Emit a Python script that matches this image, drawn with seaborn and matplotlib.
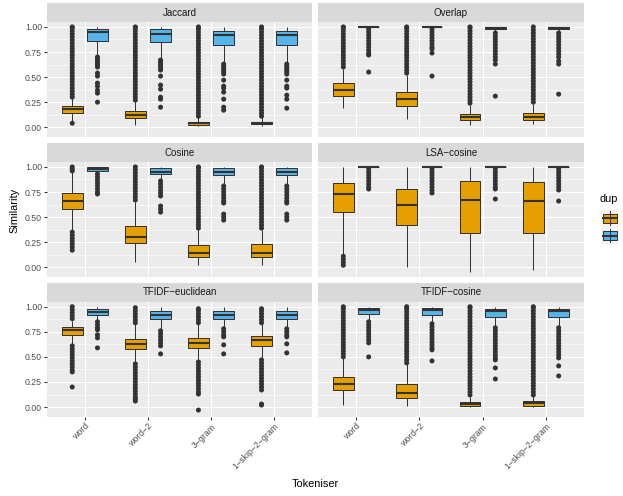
import matplotlib
matplotlib.use("Agg")
import matplotlib.pyplot as plt
from matplotlib.patches import Rectangle
from matplotlib.lines import Line2D
from matplotlib.ticker import FixedLocator
import pandas as pd
import seaborn as sns

plt.rcParams["font.family"] = ["Liberation Sans", "DejaVu Sans"]

# ---------------------------------------------------------------- data
tokenisers = ["word", "word\u22122", "3\u2212gram", "1\u2212skip\u22122\u2212gram"]
metrics = ["Jaccard", "Overlap", "Cosine", "LSA\u2212cosine",
           "TFIDF\u2212euclidean", "TFIDF\u2212cosine"]
dup_levels = ["0", "1"]
dup_colours = ["#E69F00", "#56B4E9"]

# box summaries per tokeniser: [lower whisker, q1, median, q3, upper whisker]
jaccard_nondup = [[0.06, 0.143, 0.183, 0.21, 0.29], [0.02, 0.09, 0.127, 0.16, 0.26],
                  [0.01, 0.027, 0.04, 0.057, 0.10], [0.01, 0.03, 0.043, 0.057, 0.10]]
jaccard_dup = [[0.72, 0.863, 0.947, 0.98, 1.0], [0.69, 0.847, 0.933, 0.977, 1.0],
               [0.64, 0.823, 0.92, 0.963, 1.0], [0.64, 0.823, 0.917, 0.963, 1.0]]
overlap_nondup = [[0.19, 0.31, 0.37, 0.437, 0.58], [0.087, 0.213, 0.277, 0.347, 0.52],
                  [0.027, 0.07, 0.103, 0.137, 0.22], [0.03, 0.07, 0.103, 0.143, 0.23]]
overlap_dup = [[0.995, 0.995, 1.0, 1.0, 1.0], [0.995, 0.995, 1.0, 1.0, 1.0],
               [0.95, 0.977, 0.993, 1.0, 1.0], [0.95, 0.977, 0.993, 1.0, 1.0]]
cosine_nondup = [[0.36, 0.577, 0.66, 0.737, 0.95], [0.053, 0.237, 0.303, 0.41, 0.65],
                 [0.02, 0.103, 0.147, 0.22, 0.37], [0.02, 0.103, 0.147, 0.227, 0.37]]
cosine_dup = [[0.94, 0.96, 0.98, 0.997, 1.0], [0.87, 0.933, 0.953, 0.987, 1.0],
              [0.83, 0.92, 0.953, 0.987, 1.0], [0.83, 0.92, 0.953, 0.987, 1.0]]
lsa_nondup = [[0.137, 0.55, 0.727, 0.837, 1.0], [0.0, 0.417, 0.62, 0.777, 1.0],
              [-0.047, 0.337, 0.667, 0.857, 1.0], [-0.023, 0.337, 0.66, 0.847, 1.0]]
lsa_dup = [[0.995, 0.995, 1.0, 1.0, 1.0], [0.995, 0.995, 1.0, 1.0, 1.0],
           [0.995, 0.995, 1.0, 1.0, 1.0], [0.995, 0.995, 1.0, 1.0, 1.0]]
tfidf_euc_nondup = [[0.627, 0.717, 0.77, 0.80, 0.86], [0.443, 0.577, 0.633, 0.677, 0.827],
                    [0.477, 0.593, 0.64, 0.693, 0.83], [0.493, 0.607, 0.665, 0.707, 0.83]]
tfidf_euc_dup = [[0.867, 0.92, 0.947, 0.973, 1.0], [0.777, 0.88, 0.917, 0.957, 1.0],
                 [0.79, 0.877, 0.92, 0.957, 1.0], [0.80, 0.88, 0.917, 0.957, 1.0]]
tfidf_cos_nondup = [[0.02, 0.17, 0.233, 0.303, 0.49], [0.01, 0.093, 0.143, 0.233, 0.43],
                    [0.0, 0.01, 0.033, 0.053, 0.10], [0.0, 0.01, 0.04, 0.06, 0.11]]
tfidf_cos_dup = [[0.86, 0.927, 0.967, 0.99, 1.0], [0.84, 0.92, 0.967, 0.99, 1.0],
                 [0.80, 0.90, 0.953, 0.977, 1.0], [0.80, 0.90, 0.953, 0.977, 1.0]]

# outlying observations per tokeniser
jaccard_nondup_out = [
    [0.04, 0.30, 0.33, 0.36, 0.39, 0.42, 0.45, 0.48, 0.51, 0.54, 0.57, 0.60, 0.63, 0.66,
     0.69, 0.72, 0.75, 0.78, 0.81, 0.84, 0.87, 0.90, 0.93, 0.96, 0.99, 1.00],
    [0.27, 0.30, 0.33, 0.36, 0.39, 0.42, 0.45, 0.48, 0.51, 0.54, 0.57, 0.60, 0.63, 0.66,
     0.69, 0.72, 0.75, 0.78, 0.81, 0.84, 0.87, 0.90, 0.93, 0.96, 0.99, 1.00],
    [0.11, 0.14, 0.17, 0.20, 0.23, 0.26, 0.29, 0.32, 0.35, 0.38, 0.41, 0.44, 0.47, 0.50,
     0.53, 0.56, 0.59, 0.62, 0.65, 0.68, 0.71, 0.74, 0.77, 0.80, 0.83, 0.86, 0.89, 0.92,
     0.95, 0.98, 1.00],
    [0.11, 0.14, 0.17, 0.20, 0.23, 0.26, 0.29, 0.32, 0.35, 0.38, 0.41, 0.44, 0.47, 0.50,
     0.53, 0.56, 0.59, 0.62, 0.65, 0.68, 0.71, 0.74, 0.77, 0.80, 0.83, 0.86, 0.89, 0.92,
     0.95, 0.98, 1.00],
]
jaccard_dup_out = [
    [0.70, 0.68, 0.66, 0.64, 0.62, 0.60, 0.54, 0.51, 0.44, 0.41, 0.37, 0.34, 0.25],
    [0.67, 0.65, 0.63, 0.61, 0.59, 0.57, 0.51, 0.42, 0.38, 0.30, 0.28, 0.20],
    [0.63, 0.61, 0.59, 0.57, 0.55, 0.53, 0.47, 0.41, 0.39, 0.35, 0.28, 0.20, 0.17],
    [0.63, 0.61, 0.59, 0.57, 0.55, 0.53, 0.47, 0.41, 0.39, 0.32, 0.28, 0.19],
]
overlap_nondup_out = [
    [0.60, 0.63, 0.66, 0.69, 0.72, 0.75, 0.78, 0.81, 0.84, 0.87, 0.90, 0.93, 0.96, 0.99, 1.00],
    [0.54, 0.57, 0.60, 0.63, 0.66, 0.69, 0.72, 0.75, 0.78, 0.81, 0.84, 0.87, 0.90, 0.93,
     0.96, 0.99, 1.00],
    [0.24, 0.27, 0.30, 0.33, 0.36, 0.39, 0.42, 0.45, 0.48, 0.51, 0.54, 0.57, 0.60, 0.63,
     0.66, 0.69, 0.72, 0.75, 0.78, 0.81, 0.84, 0.87, 0.90, 0.93, 0.96, 0.99, 1.00],
    [0.25, 0.28, 0.31, 0.34, 0.37, 0.40, 0.43, 0.46, 0.49, 0.52, 0.55, 0.58, 0.61, 0.64,
     0.67, 0.70, 0.73, 0.76, 0.79, 0.82, 0.85, 0.88, 0.91, 0.94, 0.97, 1.00],
]
overlap_dup_out = [
    [0.98, 0.95, 0.92, 0.89, 0.86, 0.83, 0.80, 0.77, 0.74, 0.72, 0.55],
    [0.98, 0.95, 0.92, 0.89, 0.86, 0.83, 0.80, 0.78, 0.74, 0.51],
    [0.94, 0.91, 0.88, 0.85, 0.82, 0.79, 0.76, 0.73, 0.70, 0.67, 0.63, 0.31],
    [0.94, 0.91, 0.88, 0.85, 0.82, 0.79, 0.76, 0.73, 0.70, 0.66, 0.63, 0.33],
]
cosine_nondup_out = [
    [1.00, 0.98, 0.96, 0.35, 0.32, 0.29, 0.26, 0.23, 0.20, 0.17],
    [0.67, 0.70, 0.73, 0.76, 0.79, 0.82, 0.85, 0.88, 0.91, 0.94, 0.97, 1.00],
    [0.39, 0.42, 0.45, 0.48, 0.51, 0.54, 0.57, 0.60, 0.63, 0.66, 0.69, 0.72, 0.75, 0.78,
     0.81, 0.84, 0.87, 0.90, 0.93, 0.96, 0.99, 1.00],
    [0.39, 0.42, 0.45, 0.48, 0.51, 0.54, 0.57, 0.60, 0.63, 0.66, 0.69, 0.72, 0.75, 0.78,
     0.81, 0.84, 0.87, 0.90, 0.93, 0.96, 0.99, 1.00],
]
cosine_dup_out = [
    [0.93, 0.90, 0.87, 0.84, 0.81, 0.78, 0.75, 0.73],
    [0.86, 0.83, 0.80, 0.77, 0.74, 0.71, 0.61, 0.58, 0.55],
    [0.81, 0.78, 0.75, 0.72, 0.69, 0.66, 0.64, 0.53, 0.50, 0.47],
    [0.81, 0.78, 0.75, 0.72, 0.69, 0.66, 0.64, 0.53, 0.50, 0.47],
]
lsa_nondup_out = [[0.02, 0.05, 0.08, 0.11], [], [], []]
lsa_dup_out = [
    [0.98, 0.95, 0.92, 0.89, 0.86, 0.83, 0.80, 0.78],
    [0.98, 0.95, 0.92, 0.89, 0.86, 0.83, 0.80, 0.77, 0.74],
    [0.98, 0.95, 0.92, 0.89, 0.86, 0.83, 0.80, 0.78, 0.68],
    [0.98, 0.95, 0.92, 0.89, 0.86, 0.83, 0.80, 0.77, 0.66],
]
tfidf_euc_nondup_out = [
    [0.88, 0.91, 0.94, 0.97, 1.00, 0.61, 0.58, 0.55, 0.52, 0.49, 0.46, 0.43, 0.40, 0.37,
     0.35, 0.20],
    [0.84, 0.87, 0.90, 0.93, 0.96, 0.99, 0.43, 0.40, 0.37, 0.34, 0.31, 0.28, 0.25, 0.22,
     0.19, 0.16, 0.13, 0.10, 0.08, 0.06],
    [0.84, 0.87, 0.90, 0.93, 0.96, 0.98, 0.45, 0.42, 0.39, 0.36, 0.33, 0.30, 0.27, 0.24,
     0.21, 0.18, 0.15, 0.13, -0.03],
    [0.84, 0.87, 0.90, 0.93, 0.96, 0.98, 0.47, 0.44, 0.41, 0.38, 0.35, 0.32, 0.29, 0.26,
     0.23, 0.20, 0.17, 0.03, 0.02],
]
tfidf_euc_dup_out = [
    [0.85, 0.82, 0.79, 0.77, 0.72, 0.69, 0.59],
    [0.76, 0.73, 0.70, 0.67, 0.64, 0.61, 0.53],
    [0.78, 0.75, 0.72, 0.70, 0.62, 0.53],
    [0.78, 0.75, 0.72, 0.70, 0.63, 0.54],
]
tfidf_cos_nondup_out = [
    [0.50, 0.53, 0.56, 0.59, 0.62, 0.65, 0.68, 0.71, 0.74, 0.77, 0.80, 0.83, 0.86, 0.89,
     0.92, 0.95, 0.98, 1.00],
    [0.44, 0.47, 0.50, 0.53, 0.56, 0.59, 0.62, 0.65, 0.68, 0.71, 0.74, 0.77, 0.80, 0.83,
     0.86, 0.89, 0.92, 0.95, 0.98, 1.00],
    [0.12, 0.15, 0.18, 0.21, 0.24, 0.27, 0.30, 0.33, 0.36, 0.39, 0.42, 0.45, 0.48, 0.51,
     0.54, 0.57, 0.60, 0.63, 0.66, 0.69, 0.72, 0.75, 0.78, 0.81, 0.84, 0.87, 0.90, 0.93,
     0.96, 0.99, 1.00],
    [0.12, 0.15, 0.18, 0.21, 0.24, 0.27, 0.30, 0.33, 0.36, 0.39, 0.42, 0.45, 0.48, 0.51,
     0.54, 0.57, 0.60, 0.63, 0.66, 0.69, 0.72, 0.75, 0.78, 0.81, 0.84, 0.87, 0.90, 0.93,
     0.96, 0.99, 1.00],
]
tfidf_cos_dup_out = [
    [0.85, 0.82, 0.79, 0.76, 0.73, 0.70, 0.67, 0.64, 0.50],
    [0.83, 0.80, 0.77, 0.74, 0.71, 0.68, 0.65, 0.62, 0.59, 0.57, 0.46],
    [0.79, 0.76, 0.73, 0.70, 0.67, 0.64, 0.61, 0.58, 0.55, 0.52, 0.49, 0.47, 0.39, 0.28],
    [0.79, 0.76, 0.73, 0.70, 0.67, 0.64, 0.61, 0.58, 0.55, 0.52, 0.49, 0.41, 0.31],
]

box_tables = [(jaccard_nondup, jaccard_dup), (overlap_nondup, overlap_dup),
              (cosine_nondup, cosine_dup), (lsa_nondup, lsa_dup),
              (tfidf_euc_nondup, tfidf_euc_dup), (tfidf_cos_nondup, tfidf_cos_dup)]
out_tables = [(jaccard_nondup_out, jaccard_dup_out), (overlap_nondup_out, overlap_dup_out),
              (cosine_nondup_out, cosine_dup_out), (lsa_nondup_out, lsa_dup_out),
              (tfidf_euc_nondup_out, tfidf_euc_dup_out),
              (tfidf_cos_nondup_out, tfidf_cos_dup_out)]

box_rows, out_rows = [], []
for metric, pair in zip(metrics, box_tables):
    for level, table in zip(dup_levels, pair):
        for tok, summary in zip(tokenisers, table):
            for v in summary:
                box_rows.append((metric, tok, level, v))
for metric, pair in zip(metrics, out_tables):
    for level, table in zip(dup_levels, pair):
        for tok, vals in zip(tokenisers, table):
            for v in vals:
                out_rows.append((metric, tok, level, v))
cols = ["metric", "Tokeniser", "dup", "Similarity"]
box_df = pd.DataFrame(box_rows, columns=cols)
out_df = pd.DataFrame(out_rows, columns=cols)

# ---------------------------------------------------------------- layout
W, H = 623, 496
fig = plt.figure(figsize=(W / 72, H / 72), dpi=72)
fig.patch.set_facecolor("white")


def px_axes(x0, y0, x1, y1):
    return fig.add_axes([x0 / W, 1 - y1 / H, (x1 - x0) / W, (y1 - y0) / H])


col_x = [(47, 312), (318, 584)]
panel_top = [21.7, 161.7, 301.5]
panel_h = 115.5
strip_h = 18.4

palette = dict(zip(dup_levels, dup_colours))
dark = {lvl: "#333333" for lvl in dup_levels}
edge = "#333333"

for i, metric in enumerate(metrics):
    r, c = divmod(i, 2)
    x0, x1 = col_x[c]
    y0 = panel_top[r]
    ax = px_axes(x0, y0, x1, y0 + panel_h)
    ax.set_facecolor("#EBEBEB")

    sns.boxplot(data=box_df[box_df.metric == metric], x="Tokeniser", y="Similarity",
                hue="dup", order=tokenisers, hue_order=dup_levels, palette=palette,
                saturation=1, width=0.8, gap=0.175, whis=(0, 100), showfliers=False,
                showcaps=False, linecolor=edge, linewidth=1.0,
                medianprops={"linewidth": 2.1}, legend=False, ax=ax)
    sub_out = out_df[out_df.metric == metric]
    sns.stripplot(data=sub_out, x="Tokeniser", y="Similarity", hue="dup",
                  order=tokenisers, hue_order=dup_levels, palette=dark, dodge=True,
                  jitter=False, size=5, linewidth=0, legend=False, ax=ax)

    ax.set_xlim(-0.6, 3.6)
    ax.set_ylim(-0.099, 1.052)
    ax.set_yticks([0.0, 0.25, 0.5, 0.75, 1.0])
    ax.yaxis.set_minor_locator(FixedLocator([0.125, 0.375, 0.625, 0.875]))
    ax.set_axisbelow(True)
    ax.grid(True, which="major", color="white", linewidth=1.07)
    ax.yaxis.grid(True, which="minor", color="white", linewidth=0.53)
    ax.xaxis.grid(True, which="major", color="white", linewidth=1.07)
    for s in ax.spines.values():
        s.set_visible(False)
    ax.set_xlabel("")
    ax.set_ylabel("")
    ax.tick_params(which="minor", length=0)
    ax.tick_params(which="major", length=2.75, width=1.07, color="#333333",
                   labelsize=8.8, labelcolor="#4D4D4D", pad=2.2)

    if c == 0:
        ax.set_yticklabels(["0.00", "0.25", "0.50", "0.75", "1.00"])
    else:
        ax.tick_params(axis="y", length=0, labelleft=False)
    if r == 2:
        ax.set_xticks(range(len(tokenisers)))
        ax.set_xticklabels(tokenisers, rotation=45, ha="right", va="top",
                           rotation_mode="anchor")
    else:
        ax.tick_params(axis="x", length=0, labelbottom=False)

    # facet strip
    sx = px_axes(x0, y0 - strip_h, x1, y0)
    sx.set_facecolor("#D9D9D9")
    sx.set_xticks([])
    sx.set_yticks([])
    for s in sx.spines.values():
        s.set_visible(False)
    sx.text(0.5, 0.5, metric, ha="center", va="center", fontsize=9.7,
            color="#1A1A1A", transform=sx.transAxes)

# axis titles
fig.text(315.5 / W, 1 - 484 / H, "Tokeniser", ha="center", va="center", fontsize=11)
fig.text(14 / W, 1 - 210 / H, "Similarity", ha="center", va="center", fontsize=11,
         rotation=90)

# legend
fig.text(600 / W, 1 - 201.5 / H, "dup", ha="left", va="baseline", fontsize=11)
key_left, key_w, key_h = 601, 17.3, 17.3
for k, colour in enumerate(dup_colours):
    ky = 209.6 + k * key_h
    fig.patches.append(Rectangle((key_left / W, 1 - (ky + key_h) / H), key_w / W, key_h / H,
                                 transform=fig.transFigure, facecolor="#F2F2F2",
                                 edgecolor="none"))
    cx = key_left + key_w / 2
    fig.lines.append(Line2D([cx / W, cx / W], [1 - (ky + 0.1 * key_h) / H,
                                               1 - (ky + 0.9 * key_h) / H],
                            transform=fig.transFigure, color=edge, linewidth=1.0))
    fig.patches.append(Rectangle(((key_left + 0.1 * key_w) / W, 1 - (ky + 0.75 * key_h) / H),
                                 0.8 * key_w / W, 0.5 * key_h / H,
                                 transform=fig.transFigure, facecolor=colour,
                                 edgecolor=edge, linewidth=1.0))
    fig.lines.append(Line2D([(key_left + 0.1 * key_w) / W, (key_left + 0.9 * key_w) / W],
                            [1 - (ky + 0.5 * key_h) / H] * 2,
                            transform=fig.transFigure, color=edge, linewidth=2.0))

fig.savefig("out.png", dpi=72, facecolor="white")
